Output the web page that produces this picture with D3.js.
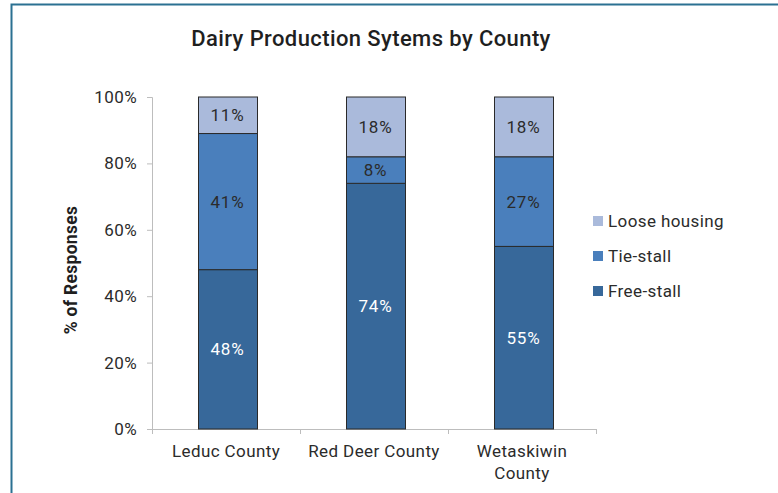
<!DOCTYPE html>
<html>
<head>
<meta charset="utf-8">
<script src="https://cdn.jsdelivr.net/npm/d3@7"></script>
<style>
  body { margin: 0; background: #fff; }
  svg { display: block; font-family: "Roboto", "DejaVu Sans", sans-serif; }
</style>
</head>
<body>
<svg id="chart" width="778" height="493"></svg>
<script>
// chart data
var counties = ["Leduc County", "Red Deer County", "Wetaskiwin County"];
var freeStall = [48, 74, 55];
var tieStall = [41, 8, 27];
var looseHousing = [11, 18, 18];
var yTicks = [0, 20, 40, 60, 80, 100];

var seriesNames = ["Free-stall", "Tie-stall", "Loose housing"];
var seriesColors = ["#37689a", "#4a7fbc", "#aabadb"];
var labelColors = ["#ffffff", "#2b2b2b", "#2b2b2b"];

// build table for d3.stack
var table = counties.map(function (c, i) {
    return { county: c, "Free-stall": freeStall[i], "Tie-stall": tieStall[i], "Loose housing": looseHousing[i] };
});

var svg = d3.select("#chart"),
    margin = { top: 97, left: 152, bottom: 64, right: 182 },
    width = +svg.attr("width") - margin.left - margin.right,
    height = +svg.attr("height") - margin.top - margin.bottom;

// frame
svg.append("path")
    .attr("d", "M11.5,493 V4.5 H778")
    .attr("fill", "none")
    .attr("stroke", "#2b7192")
    .attr("stroke-width", 2);

svg.append("text")
    .attr("x", 371)
    .attr("y", 46)
    .attr("text-anchor", "middle")
    .attr("font-size", 22)
    .attr("font-weight", 500)
    .attr("letter-spacing", 0.4)
    .attr("fill", "#1f1f1f")
    .text("Dairy Production Sytems by County");

var g = svg.append("g").attr("transform", `translate(${margin.left},${margin.top})`);

var x = d3.scaleBand().domain(counties).range([0, width]).paddingInner(0).paddingOuter(0);
var y = d3.scaleLinear().domain([0, 100]).range([height, 0]);
var barW = 59;

// axes
var yAxis = g.append("g")
    .call(d3.axisLeft(y).tickValues(yTicks).tickFormat(d => d + "%").tickSize(5).tickPadding(10));
var xAxis = g.append("g")
    .attr("transform", `translate(0,${height})`)
    .call(d3.axisBottom(x).tickSize(0).tickPadding(16));

[yAxis, xAxis].forEach(function (a) {
    a.select(".domain").attr("stroke", "#bdbdbd");
    a.selectAll(".tick line").attr("stroke", "#bdbdbd");
    a.selectAll("text").attr("fill", "#2b2b2b").attr("font-size", 17)
        .attr("letter-spacing", 0.4).attr("font-family", "Roboto, sans-serif");
});
yAxis.select(".domain").attr("d", `M-5,0.5H0.5V${height + 0.5}`);

// x tick marks at band boundaries
var bounds = [0].concat(counties.map(c => x(c) + x.bandwidth()));
g.selectAll(".xbound")
    .data(bounds)
    .enter().append("line")
    .attr("class", "xbound")
    .attr("x1", d => Math.round(d) + 0.5).attr("x2", d => Math.round(d) + 0.5)
    .attr("y1", height).attr("y2", height + 5)
    .attr("stroke", "#bdbdbd");
xAxis.select(".domain").attr("d", `M-5,0.5H${width}`);

// wrap long category names
xAxis.selectAll(".tick text").each(function (d) {
    var t = d3.select(this);
    if (d === "Wetaskiwin County") {
        t.text(null);
        t.append("tspan").attr("x", 0).attr("dy", "0.71em").text("Wetaskiwin");
        t.append("tspan").attr("x", 0).attr("dy", "1.3em").text("County");
        t.attr("dy", null);
    }
});

// stacked bars
var stack = d3.stack().keys(seriesNames)(table);

var layer = g.selectAll("g.layer")
    .data(stack)
    .enter().append("g")
    .attr("class", "layer")
    .attr("fill", (d, i) => seriesColors[i]);

layer.selectAll("rect")
    .data(d => d)
    .enter().append("rect")
    .attr("x", d => Math.round(x(d.data.county) + (x.bandwidth() - barW) / 2) + 1.5)
    .attr("y", d => y(d[1]))
    .attr("width", barW)
    .attr("height", d => y(d[0]) - y(d[1]))
    .attr("stroke", "#2a2a2a")
    .attr("stroke-width", 1);

layer.each(function (s, i) {
    d3.select(this).selectAll("text")
        .data(s)
        .enter().append("text")
        .attr("x", d => x(d.data.county) + x.bandwidth() / 2 + 1.5)
        .attr("y", d => (y(d[0]) + y(d[1])) / 2)
        .attr("dy", "0.35em")
        .attr("text-anchor", "middle")
        .attr("font-size", 17)
        .attr("letter-spacing", 0.8)
        .attr("fill", labelColors[i])
        .text(d => (d[1] - d[0]) + "%");
});

// y axis title
svg.append("text")
    .attr("transform", "translate(77,270) rotate(-90)")
    .attr("text-anchor", "middle")
    .attr("font-size", 17.5)
    .attr("font-weight", "bold")
    .attr("letter-spacing", 0.3)
    .attr("fill", "#1f1f1f")
    .text("% of Responses");

// legend (reversed order)
var legendItems = seriesNames.slice().reverse();
var legendColors = seriesColors.slice().reverse();
var legend = svg.selectAll(".legend")
    .data(legendItems)
    .enter().append("g")
    .attr("class", "legend")
    .attr("transform", (d, i) => `translate(593,${221 + i * 35})`);

legend.append("rect")
    .attr("x", 0).attr("y", -5)
    .attr("width", 10).attr("height", 10)
    .attr("fill", (d, i) => legendColors[i]);

legend.append("text")
    .attr("x", 15)
    .attr("dy", "0.35em")
    .attr("font-size", 17)
    .attr("letter-spacing", 0.4)
    .attr("fill", "#2b2b2b")
    .text(d => d);
</script>
</body>
</html>
